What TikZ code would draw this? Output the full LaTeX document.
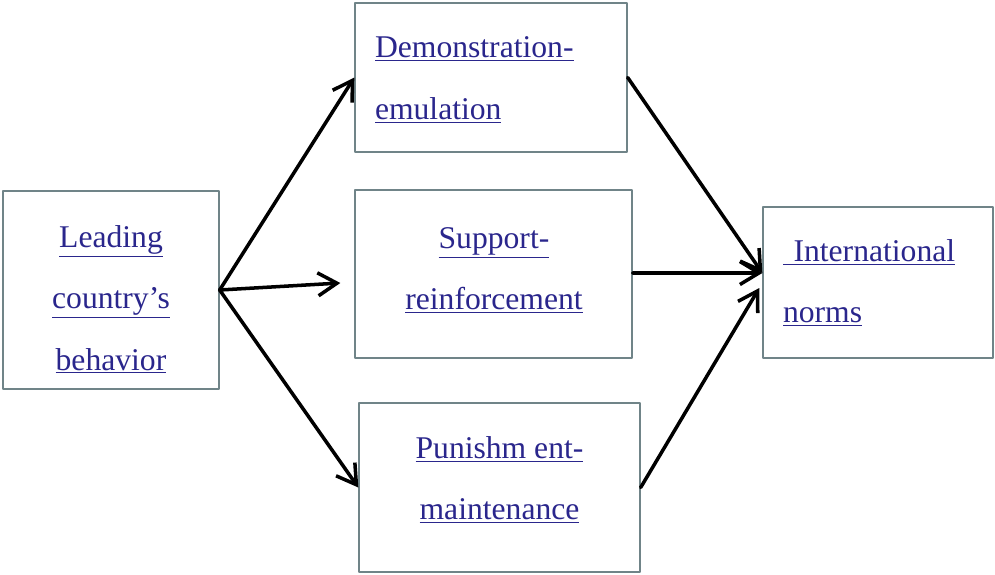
\documentclass[tikz,border=0pt]{standalone}
\usepackage{fontspec}
\setmainfont{Liberation Serif}
\usepackage{tikz}
\usetikzlibrary{arrows.meta}

\definecolor{boxline}{RGB}{112,132,136}
\definecolor{linkblue}{RGB}{42,38,140}
\newcommand{\boxfont}{\fontsize{18}{35}\selectfont}

\begin{document}
\begin{tikzpicture}[line cap=round,line join=round,x=0.02cm,y=-0.02cm,
  >={Straight Barb[length=3.8mm,width=4.6mm,line width=2pt]},
  stage/.style={draw=boxline,line width=0.8pt,fill=white,inner sep=0pt},
  stagetext/.style={text=linkblue,font=\boxfont,inner sep=0pt},
  link/.style={->,line width=2pt,black}]
  \useasboundingbox (0,0) rectangle (995,575);
  % boxes
  \node[stage,minimum width=4.32cm,minimum height=3.96cm] (lead) at (111,290) {};
  \node[stage,minimum width=5.44cm,minimum height=2.98cm] (demo) at (491,77.5) {};
  \node[stage,minimum width=5.54cm,minimum height=3.36cm] (sup) at (493.5,274) {};
  \node[stage,minimum width=5.62cm,minimum height=3.38cm] (pun) at (499.5,487.5) {};
  \node[stage,minimum width=4.60cm,minimum height=3.02cm] (intl) at (878,282.5) {};
  % texts
  \node[stagetext,align=center] (lead-text) at (111,299.5)
    {\underline{Leading}\\\underline{country’s}\\\underline{behavior}};
  \node[stagetext,align=left,text width=4.64cm] (demo-text) at (491,80)
    {\underline{Demonstration-}\\\underline{emulation}};
  \node[stagetext,align=center] (sup-text) at (494,270.5)
    {\underline{Support-}\\\underline{reinforcement}};
  \node[stagetext,align=center] (pun-text) at (499.5,480)
    {\underline{Punishm ent-}\\\underline{maintenance}};
  \node[stagetext,align=left,text width=3.8cm] (intl-text) at (878,283)
    {\underline{\ International}\\\underline{norms}};
  % arrows
  \draw[link] (lead.east) -- (demo.west);
  \draw[link] (lead.east) -- ([xshift=-0.28cm,yshift=-0.18cm]sup.west);
  \draw[link] (lead.east) -- (pun.west);
  \draw[link] (demo.east) -- ([yshift=0.19cm]intl.west);
  \draw[link] ([yshift=0.02cm]sup.east) -- ([yshift=0.19cm]intl.west);
  \draw[link] (pun.east) -- ([xshift=-0.06cm,yshift=-0.11cm]intl.west);
\end{tikzpicture}
\end{document}
